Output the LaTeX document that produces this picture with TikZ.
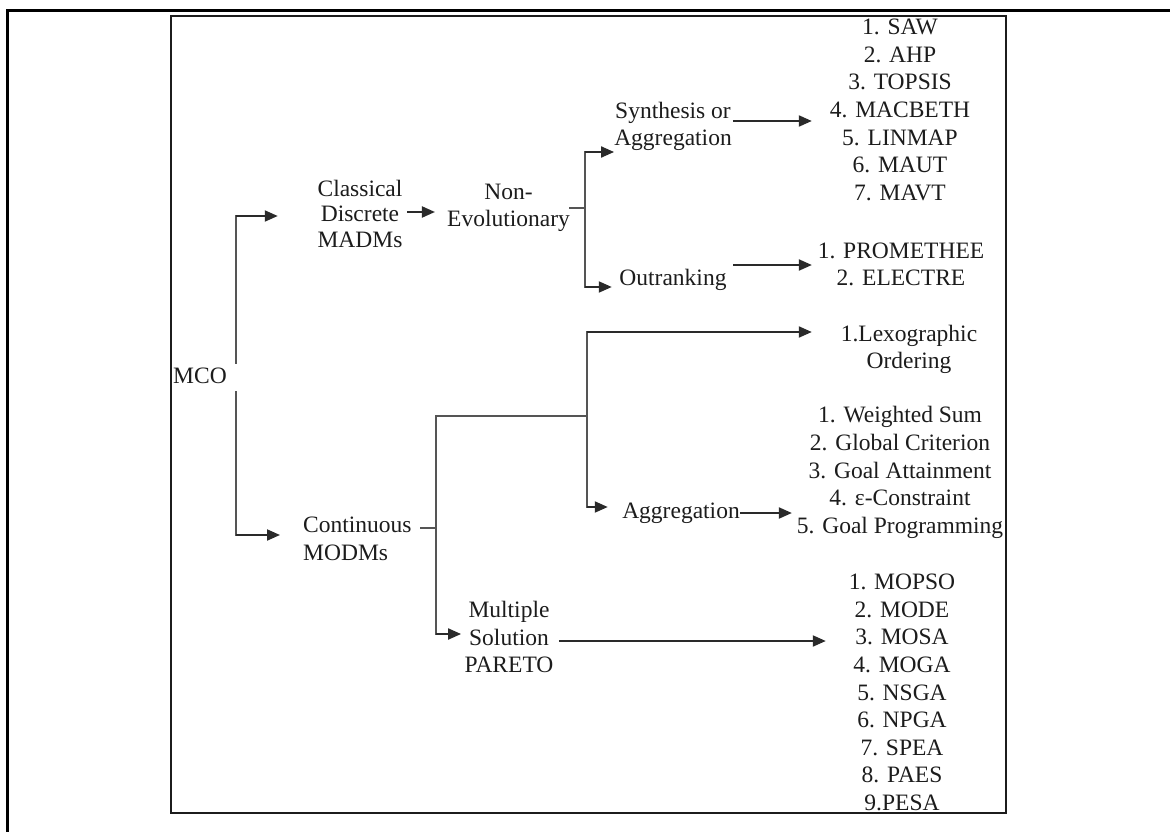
\documentclass[tikz,border=0pt]{standalone}
\usepackage{fontspec}
\setmainfont{Liberation Serif}
\usetikzlibrary{arrows.meta}
\definecolor{ink}{HTML}{1C1C1C}
\definecolor{wire}{HTML}{555555}
\definecolor{shaft}{HTML}{2A2A2A}
% stacked lines of a label, each row one baselineskip high
\newcommand\stack[2]{\begin{tabular}{@{}#1@{}}#2\end{tabular}}

\begin{document}
\begin{tikzpicture}[x=1pt,y=-1pt,
  lbl/.style={inner sep=0pt, text=ink, font=\fontsize{23.5}{27.6}\selectfont},
  tree/.style={draw=wire, line width=1.5pt, line cap=rect},
  arr/.style={draw=shaft, line width=2pt, -{Triangle[length=13pt,width=11pt]}},
]
\useasboundingbox (0,0) rectangle (1170,832);

% ---- labels ----
\node[lbl, anchor=north west] (mco) at (173,363.7) {\stack{l}{MCO}};
\node[lbl, font=\fontsize{23.5}{25.5}\selectfont] (cdm) at (360,216.5)
  {\stack{c}{Classical\\Discrete\\MADMs}};
\node[lbl] (nev) at (508.5,207.3) {\stack{c}{Non-\\Evolutionary}};
\node[lbl] (syn) at (673,126.3) {\stack{c}{Synthesis or\\Aggregation}};
\node[lbl] (outr) at (673,279.5) {\stack{c}{Outranking}};
\node[lbl] (saw) at (900,112)
  {\stack{c}{1. SAW\\2. AHP\\3. TOPSIS\\4. MACBETH\\5. LINMAP\\6. MAUT\\7. MAVT}};
\node[lbl] (prom) at (901,266.5) {\stack{c}{1. PROMETHEE\\2. ELECTRE}};
\node[lbl] (lex) at (909,349.5) {\stack{c}{1.Lexographic\\Ordering}};
\node[lbl] (wsum) at (900,472.5)
  {\stack{c}{1. Weighted Sum\\2. Global Criterion\\3. Goal Attainment\\4. ε-Constraint\\5. Goal Programming}};
\node[lbl] (agg) at (681,512.5) {\stack{c}{Aggregation}};
\node[lbl, anchor=west] (cont) at (303,541) {\stack{l}{Continuous\\MODMs}};
\node[lbl] (mult) at (509,639.5) {\stack{c}{Multiple\\Solution\\PARETO}};
\node[lbl] (mopso) at (902,694.5)
  {\stack{c}{1. MOPSO\\2. MODE\\3. MOSA\\4. MOGA\\5. NSGA\\6. NPGA\\7. SPEA\\8. PAES\\9.PESA}};

% ---- junctions ----
\coordinate (jA) at (236,216);
\coordinate (jB) at (236,535);
\coordinate (jC) at (585,208);
\coordinate (jD) at (436,528);
\coordinate (jE) at (587,416);

% ---- root split ----
\draw[tree] (mco.north -| jA) -- (jA);
\draw[arr, shorten >=39.6pt] (jA) -- (cdm.west |- jA);
\draw[tree] (mco.south -| jB) -- (jB);
\draw[arr, shorten >=23pt] (jB) -- (cont.west |- jB);

% ---- discrete branch ----
\draw[arr, shorten <=4.6pt, shorten >=12pt] (cdm.east |- 0,212) -- (nev.west |- 0,212);
\draw[tree] (nev.east |- jC) -- (jC);
\draw[tree] (jC |- 0,152) -- (jC |- 0,287);
\draw[arr] (jC |- 0,152) -- (syn.west |- 0,152);
\draw[arr, shorten >=7.5pt] (jC |- 0,287) -- (outr.west |- 0,287);
\draw[arr, shorten <=1pt, shorten >=17.8pt] (syn.east |- 0,121) -- (saw.west |- 0,121);
\draw[arr, shorten <=6.5pt, shorten >=5.7pt] (outr.east |- 0,265) -- (prom.west |- 0,265);

% ---- continuous branch ----
\draw[tree, shorten <=8.6pt] (cont.east |- jD) -- (jD);
\draw[tree] (jD |- jE) -- (jD |- 0,634);
\draw[tree] (jD |- jE) -- (jE);
\draw[tree] (jE |- 0,332) -- (jE |- 0,507);
\draw[arr, shorten >=28.8pt] (jE |- 0,332) -- (lex.west |- 0,332);
\draw[arr, shorten >=14.3pt] (jE |- 0,507) -- (agg.west |- 0,507);
\draw[arr, shorten >=3.3pt] (jD |- 0,634) -- (mult.west |- 0,634);
\draw[arr, shorten >=4.8pt] (agg.east |- 0,513) -- (wsum.west |- 0,513);
\draw[arr, shorten <=5.3pt, shorten >=22.8pt] (mult.east |- 0,641) -- (mopso.west |- 0,641);

% ---- frames ----
\draw[line width=3pt, black] (7,845) -- (7,11) -- (1185,11);
\draw[line width=2pt, draw=ink] (171,16) rectangle (1006,813);
\end{tikzpicture}
\end{document}
